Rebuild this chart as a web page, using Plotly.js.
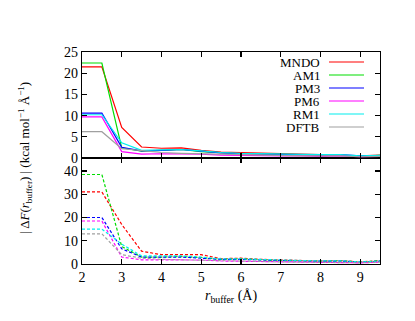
<!DOCTYPE html>
<html lang="en">
<head>
    <meta charset="UTF-8">
    <title>Force error vs buffer radius</title>
    <script src="https://cdn.jsdelivr.net/npm/plotly.js-dist@3.0.1/plotly.min.js"></script>
    <style>
        body { margin: 0; padding: 0; background: #fff; }
        #plot { width: 415px; height: 321px; }
    </style>
</head>
<body>
<div id="plot"></div>
<script>
    // buffer radius (Angstrom)
    const rBuffer = [2, 2.5, 3, 3.5, 4, 4.5, 5, 5.5, 6, 6.5, 7, 7.5, 8, 8.5, 9, 9.5];

    const methods = ['MNDO', 'AM1', 'PM3', 'PM6', 'RM1', 'DFTB'];
    const colors = ['#ff0000', '#00dd00', '#0000ff', '#ff00ff', '#00eeee', '#a0a0a0'];

    // top panel (solid lines)
    const mndoTop = [21.5, 21.5, 7.2, 2.6, 2.3, 2.4, 1.8, 1.4, 1.3, 1.2, 1.0, 0.9, 0.8, 0.6, 0.5, 0.7];
    const am1Top  = [22.4, 22.4, 2.4, 1.6, 1.8, 2.0, 1.5, 1.2, 1.0, 0.9, 0.9, 0.8, 0.7, 0.7, 0.4, 0.6];
    const pm3Top  = [10.6, 10.6, 2.5, 1.7, 1.8, 2.0, 1.6, 1.2, 1.0, 0.9, 0.9, 0.8, 0.7, 0.8, 0.5, 0.5];
    const pm6Top  = [9.7, 9.7, 1.5, 0.9, 1.0, 1.0, 0.9, 0.7, 0.6, 0.5, 0.5, 0.5, 0.4, 0.5, 0.3, 0.4];
    const rm1Top  = [10.2, 10.2, 3.6, 1.8, 1.9, 2.0, 1.7, 1.3, 1.1, 1.0, 1.0, 0.9, 0.8, 0.8, 0.5, 0.6];
    const dftbTop = [6.2, 6.2, 2.2, 1.7, 1.3, 1.1, 1.0, 0.8, 0.7, 0.6, 0.6, 0.5, 0.5, 0.5, 0.3, 0.4];

    // bottom panel (dashed lines)
    const mndoBot = [31, 31, 17, 5.5, 4.0, 4.0, 4.0, 2.3, 2.5, 2.0, 1.7, 1.5, 1.3, 1.5, 0.9, 1.5];
    const am1Bot  = [38.5, 38.5, 7.5, 3.0, 3.0, 3.2, 2.8, 2.0, 2.2, 1.8, 1.5, 1.4, 1.2, 1.4, 0.8, 1.4];
    const pm3Bot  = [20, 20, 6.5, 3.0, 3.0, 3.0, 2.5, 2.0, 2.0, 1.7, 1.4, 1.3, 1.2, 1.3, 0.8, 1.2];
    const pm6Bot  = [18.5, 18.5, 3.0, 1.8, 1.8, 1.8, 1.7, 1.3, 1.2, 1.0, 0.9, 0.8, 0.7, 0.8, 0.5, 0.8];
    const rm1Bot  = [15, 15, 8.5, 3.5, 3.5, 3.5, 3.0, 2.2, 2.2, 1.9, 1.6, 1.5, 1.3, 1.4, 0.9, 1.3];
    const dftbBot = [13, 13, 4.0, 2.5, 2.0, 1.8, 1.6, 1.2, 1.2, 1.0, 0.9, 0.8, 0.7, 0.8, 0.5, 0.8];

    const topSeries = [mndoTop, am1Top, pm3Top, pm6Top, rm1Top, dftbTop];
    const botSeries = [mndoBot, am1Bot, pm3Bot, pm6Bot, rm1Bot, dftbBot];

    const font = { family: 'Liberation Serif, Times New Roman, serif', size: 14, color: '#000' };
    const legendFont = { family: font.family, size: 13, color: '#000' };

    const data = [];
    methods.forEach((name, i) => {
        data.push({
            x: rBuffer, y: topSeries[i], type: 'scatter', mode: 'lines',
            name: name, xaxis: 'x2', yaxis: 'y2', showlegend: false,
            line: { color: colors[i], width: 1.2 }
        });
    });
    methods.forEach((name, i) => {
        data.push({
            x: rBuffer, y: botSeries[i], type: 'scatter', mode: 'lines',
            name: name, xaxis: 'x', yaxis: 'y', showlegend: false,
            line: { color: colors[i], width: 1.2, dash: '3px,2px' }
        });
    });

    // hand-made legend: text right-aligned, sample line to the right (gnuplot style)
    const annotations = [];
    const shapes = [];
    methods.forEach((name, i) => {
        const yPix = 62 + i * 13;
        const yPaper = 1 - (yPix - 52) / 212;
        annotations.push({
            xref: 'paper', yref: 'paper', x: (321 - 82) / 298, y: yPaper,
            xanchor: 'right', yanchor: 'middle', showarrow: false,
            text: name, font: legendFont, borderpad: 0
        });
        shapes.push({
            type: 'line', xref: 'paper', yref: 'paper',
            x0: (329 - 82) / 298, x1: (364 - 82) / 298, y0: yPaper, y1: yPaper,
            line: { color: colors[i], width: 1.2 }
        });
    });

    annotations.push({
        xref: 'paper', yref: 'paper', x: -57 / 298, y: 0.5,
        xanchor: 'center', yanchor: 'middle', showarrow: false, textangle: -90,
        text: '| Δ<i>F</i>(<i>r</i><sub>buffer</sub>) | (kcal mol<sup>−1</sup> Å<sup>−1</sup>)',
        font: { family: font.family, size: 13, color: '#000' }
    });

    const axisBase = {
        showline: true, linecolor: '#000', linewidth: 1.2, mirror: 'ticks',
        ticks: 'inside', ticklen: 5, tickwidth: 1.2, tickcolor: '#000',
        showgrid: false, zeroline: false, tickfont: font
    };

    const layout = {
        width: 415, height: 321,
        margin: { l: 82, r: 35, t: 52, b: 57 },
        paper_bgcolor: '#fff', plot_bgcolor: '#fff',
        font: font,
        showlegend: false,
        xaxis: Object.assign({}, axisBase, {
            domain: [0, 1], anchor: 'y', range: [2, 9.5], dtick: 1, tick0: 2,
            title: { text: '<i>r</i><sub>buffer</sub> (Å)', font: font, standoff: 6 }
        }),
        yaxis: Object.assign({}, axisBase, {
            domain: [0, 0.5], anchor: 'x', range: [0, 45.6], dtick: 10
        }),
        xaxis2: Object.assign({}, axisBase, {
            domain: [0, 1], anchor: 'y2', range: [2, 9.5], dtick: 1, tick0: 2,
            showticklabels: false
        }),
        yaxis2: Object.assign({}, axisBase, {
            domain: [0.5, 1], anchor: 'x2', range: [0, 25], dtick: 5
        }),
        annotations: annotations,
        shapes: shapes
    };

    Plotly.newPlot('plot', data, layout, { displayModeBar: false, staticPlot: true });
</script>
</body>
</html>
